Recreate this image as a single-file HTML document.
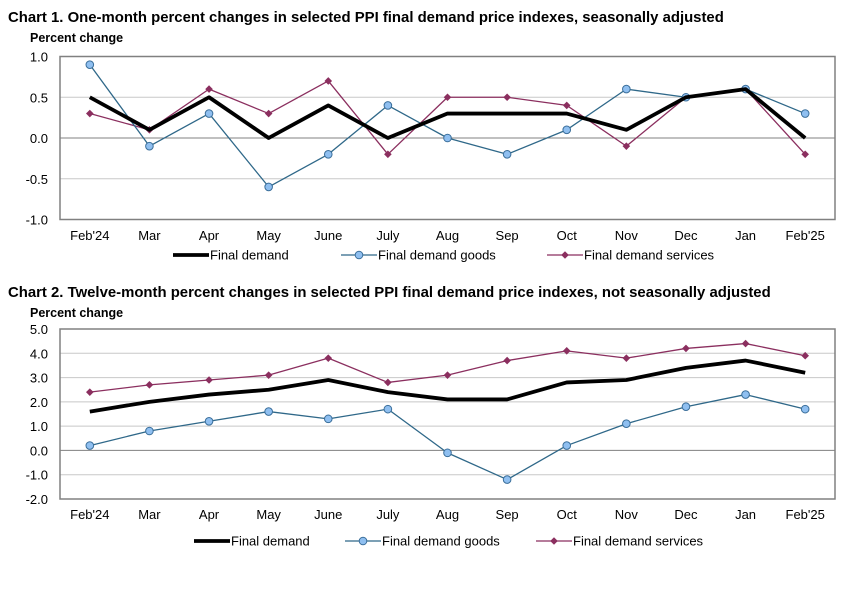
<!DOCTYPE html>
<html><head><meta charset="utf-8"><style>
body{margin:0;background:#fff;width:868px;height:585px;overflow:hidden}
svg text{font-family:"Liberation Sans",Arial,sans-serif;fill:#000}
</style></head><body>
<svg id="s" width="868" height="585">
<text x="8" y="22" font-size="14.9" font-weight="bold">Chart 1. One-month percent changes in selected PPI final demand price indexes, seasonally adjusted</text>
<text x="30" y="42" font-size="12.5" font-weight="bold">Percent change</text>
<text x="8" y="297" font-size="14.9" font-weight="bold">Chart 2. Twelve-month percent changes in selected PPI final demand price indexes, not seasonally adjusted</text>
<text x="30" y="317" font-size="12.5" font-weight="bold">Percent change</text>
</svg>
<script>
const months=["Feb'24","Mar","Apr","May","June","July","Aug","Sep","Oct","Nov","Dec","Jan","Feb'25"];
const c1Final=[0.5,0.1,0.5,0.0,0.4,0.0,0.3,0.3,0.3,0.1,0.5,0.6,0.0];
const c1Goods=[0.9,-0.1,0.3,-0.6,-0.2,0.4,0.0,-0.2,0.1,0.6,0.5,0.6,0.3];
const c1Services=[0.3,0.1,0.6,0.3,0.7,-0.2,0.5,0.5,0.4,-0.1,0.5,0.6,-0.2];
const c1Ticks=["1.0","0.5","0.0","-0.5","-1.0"];
const c2Final=[1.6,2.0,2.3,2.5,2.9,2.4,2.1,2.1,2.8,2.9,3.4,3.7,3.2];
const c2Goods=[0.2,0.8,1.2,1.6,1.3,1.7,-0.1,-1.2,0.2,1.1,1.8,2.3,1.7];
const c2Services=[2.4,2.7,2.9,3.1,3.8,2.8,3.1,3.7,4.1,3.8,4.2,4.4,3.9];
const c2Ticks=["5.0","4.0","3.0","2.0","1.0","0.0","-1.0","-2.0"];

const svg=document.getElementById('s');
const NS="http://www.w3.org/2000/svg";
function mk(t,a,p){const e=document.createElementNS(NS,t);for(const k in a)e.setAttribute(k,a[k]);(p||svg).appendChild(e);return e;}

function chart(id,top,bot,ticks,fin,goods,serv,labY,legY,legX){
  const L=60,R=835,max=parseFloat(ticks[0]),min=parseFloat(ticks[ticks.length-1]);
  const y=v=>top+(max-v)/(max-min)*(bot-top);
  const step=(R-L)/months.length;
  const x=i=>L+step*(i+0.5);
  const g=mk('g',{});
  
  
  ticks.forEach(t=>{
    const v=parseFloat(t);
    const ln=mk('line',{x1:L,x2:R,y1:y(v),y2:y(v),stroke:v===0?'#808080':'#c8c8c8','stroke-width':1},g);
    
    
    const tx=mk('text',{x:L-12,y:y(v)+5,'font-size':13,'text-anchor':'end'},g);
    tx.textContent=t;
    
    
  });
  const fr=mk('path',{d:`M${L},${top}H${R}V${bot}H${L}Z`,fill:'none',stroke:'#808080','stroke-width':1.5},g);
  
  
  months.forEach((m,i)=>{
    const tx=mk('text',{x:x(i),y:labY,'font-size':13,'text-anchor':'middle'},g);
    tx.textContent=m;
    
    
  });
  function series(vals,color,w,marker,name){
    const p=mk('polyline',{points:vals.map((v,i)=>x(i)+','+y(v)).join(' '),fill:'none',stroke:color,'stroke-width':w,'stroke-linejoin':'round'},g);
    
    
    vals.forEach((v,i)=>{
      let m=null;
      if(marker==='circle')m=mk('circle',{cx:x(i),cy:y(v),r:3.8,fill:'#8fbff0',stroke:'#3a6e9a','stroke-width':1},g);
      else if(marker==='diamond')m=mk('path',{d:`M${x(i)},${y(v)-3.8}l3.8,3.8l-3.8,3.8l-3.8,-3.8z`,fill:'#8b2f5f'},g);
      if(m){}
    });
  }
  series(serv,'#8b2f5f',1.3,'diamond','services');
  series(goods,'#2f6889',1.3,'circle','goods');
  series(fin,'#000',3.8,null,'final-demand');
  const items=[['Final demand','#000',3.8,null],['Final demand goods','#2f6889',1.3,'circle'],['Final demand services','#8b2f5f',1.3,'diamond']];
  items.forEach((it,k)=>{
    const lx=legX[k];
    const lg=mk('g',{},g);
    
    
    mk('line',{x1:lx,x2:lx+36,y1:legY,y2:legY,stroke:it[1],'stroke-width':it[2]},lg);
    if(it[3]==='circle')mk('circle',{cx:lx+18,cy:legY,r:3.8,fill:'#8fbff0',stroke:'#3a6e9a'},lg);
    if(it[3]==='diamond')mk('path',{d:`M${lx+18},${legY-3.8}l3.8,3.8l-3.8,3.8l-3.8,-3.8z`,fill:'#8b2f5f'},lg);
    const t=mk('text',{x:lx+37,y:legY+4.5,'font-size':13},lg);
    t.textContent=it[0];
  });
}
chart('chart1',56.5,219.5,c1Ticks,c1Final,c1Goods,c1Services,240,255,[173,341,547]);
chart('chart2',329,499,c2Ticks,c2Final,c2Goods,c2Services,519,541,[194,345,536]);
</script>
</body></html>
